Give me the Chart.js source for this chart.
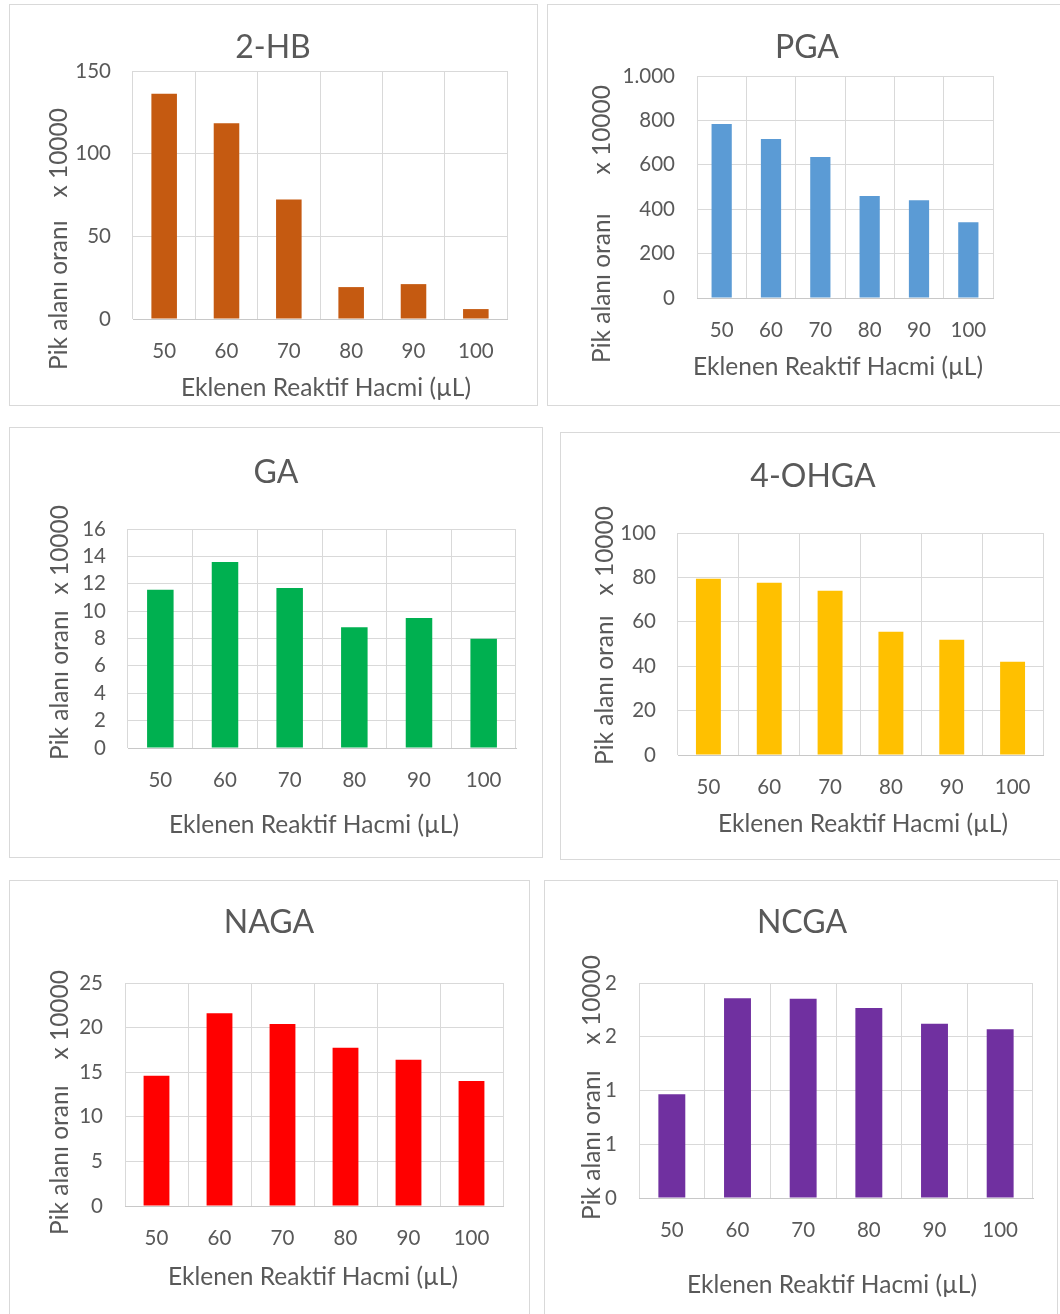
<!DOCTYPE html>
<html>
<head>
<meta charset="utf-8">
<script src="https://cdn.jsdelivr.net/npm/chart.js@4.4.1/dist/chart.umd.min.js"></script>
<style>
  html, body { margin: 0; padding: 0; background: #ffffff; }
  body { width: 1060px; height: 1314px; overflow: hidden; position: relative; }
  .frame { position: absolute; box-sizing: border-box; border: 1px solid #d9d9d9; }
  canvas { position: absolute; }
</style>
</head>
<body>
<script>
// Added reagent volume (µL) on the category axis
const categories = ['50', '60', '70', '80', '90', '100'];

// Peak area ratio (x 10000) per compound
const hbValues   = [136.3, 118.4, 72.3, 19.3, 21.1, 6.0];
const pgaValues  = [784, 716, 635, 459, 440, 341];
const gaValues   = [11.57, 13.59, 11.69, 8.82, 9.50, 7.99];
const ohgaValues = [79.4, 77.6, 74.0, 55.5, 51.9, 42.0];
const nagaValues = [14.6, 21.6, 20.4, 17.75, 16.4, 14.0];
const ncgaValues = [0.965, 1.858, 1.854, 1.767, 1.621, 1.569];

// Value-axis tick labels, listed from the bottom up
const hbTicks   = ['0', '50', '100', '150'];
const pgaTicks  = ['0', '200', '400', '600', '800', '1.000'];
const gaTicks   = ['0', '2', '4', '6', '8', '10', '12', '14', '16'];
const ohgaTicks = ['0', '20', '40', '60', '80', '100'];
const nagaTicks = ['0', '5', '10', '15', '20', '25'];
const ncgaTicks = ['0', '1', '1', '2', '2'];

const xAxisTitle = 'Eklenen Reaktif Hacmi (µL)';
const yAxisMain = 'Pik alanı oranı';
const yAxisUnit = 'x 10000';

const FONT = "Lato, 'Open Sans', sans-serif";
const TEXT = '#595959';
const GRID = '#d9d9d9';

// Panel frames and plot rectangles in page pixels
const panels = [
  { title: '2-HB', values: hbValues, ticks: hbTicks, max: 150, step: 50, color: '#C55A11',
    box: { l: 9, t: 4, r: 538, b: 406 }, plot: { l: 133, t: 71, r: 507, b: 319 },
    titleX: 273, titleY: 48, xTitleX: 326, xTitleY: 388, yTitleX: 59, yMainStart: 370, yUnitEnd: 108 },
  { title: 'PGA', values: pgaValues, ticks: pgaTicks, max: 1000, step: 200, color: '#5B9BD5',
    box: { l: 547, t: 4, r: 1072, b: 406 }, plot: { l: 697, t: 76, r: 993, b: 298 },
    titleX: 807, titleY: 48, xTitleX: 838, xTitleY: 367, yTitleX: 602, yMainStart: 363, yUnitEnd: 85 },
  { title: 'GA', values: gaValues, ticks: gaTicks, max: 16, step: 2, color: '#00B050',
    box: { l: 9, t: 427, r: 543, b: 858 }, plot: { l: 128, t: 529, r: 516, b: 748 },
    titleX: 276, titleY: 473, xTitleX: 314, xTitleY: 825, yTitleX: 60, yMainStart: 760, yUnitEnd: 505 },
  { title: '4-OHGA', values: ohgaValues, ticks: ohgaTicks, max: 100, step: 20, color: '#FFC000',
    box: { l: 560, t: 432, r: 1072, b: 860 }, plot: { l: 678, t: 533, r: 1043, b: 755 },
    titleX: 813, titleY: 477, xTitleX: 863, xTitleY: 824, yTitleX: 605, yMainStart: 765, yUnitEnd: 506 },
  { title: 'NAGA', values: nagaValues, ticks: nagaTicks, max: 25, step: 5, color: '#FF0000',
    box: { l: 9, t: 880, r: 530, b: 1330 }, plot: { l: 125, t: 983, r: 503, b: 1206 },
    titleX: 269, titleY: 923, xTitleX: 313, xTitleY: 1277, yTitleX: 60, yMainStart: 1235, yUnitEnd: 970 },
  { title: 'NCGA', values: ncgaValues, ticks: ncgaTicks, max: 2, step: 0.5, color: '#7030A0',
    box: { l: 544, t: 880, r: 1058, b: 1330 }, plot: { l: 639, t: 983, r: 1033, b: 1198 },
    titleX: 802, titleY: 923, xTitleX: 832, xTitleY: 1285, yTitleX: 592, yMainStart: 1220, yUnitEnd: 955 }
];

// Draws the chart title, the category-axis title and the two-part rotated value-axis title
const panelText = {
  id: 'panelText',
  afterDraw(chart, args, o) {
    const ctx = chart.ctx;
    ctx.save();
    ctx.fillStyle = TEXT;
    ctx.textBaseline = 'middle';
    ctx.textAlign = 'center';
    ctx.font = `32px ${FONT}`;
    ctx.fillText(o.title, o.titleX, o.titleY);
    ctx.font = `24.5px ${FONT}`;
    ctx.fillText(xAxisTitle, o.xTitleX, o.xTitleY);
    ctx.translate(o.yTitleX, 0);
    ctx.rotate(-Math.PI / 2);
    ctx.textAlign = 'left';
    ctx.fillText(yAxisMain, -o.yMainStart, 0);
    ctx.textAlign = 'right';
    ctx.fillText(yAxisUnit, -o.yUnitEnd, 0);
    ctx.restore();
  }
};

panels.forEach(p => {
  const W = p.box.r - p.box.l;
  const H = p.box.b - p.box.t;

  const frame = document.createElement('div');
  frame.className = 'frame';
  Object.assign(frame.style, { left: p.box.l + 'px', top: p.box.t + 'px', width: W + 'px', height: H + 'px' });
  document.body.appendChild(frame);

  const canvas = document.createElement('canvas');
  canvas.width = W;
  canvas.height = H;
  Object.assign(canvas.style, { left: p.box.l + 'px', top: p.box.t + 'px', width: W + 'px', height: H + 'px' });
  document.body.appendChild(canvas);

  const plotL = p.plot.l - p.box.l;
  const plotT = p.plot.t - p.box.t;
  const plotR = p.plot.r - p.box.l;
  const plotB = p.plot.b - p.box.t;

  new Chart(canvas, {
    type: 'bar',
    data: {
      labels: categories,
      datasets: [{
        data: p.values,
        backgroundColor: p.color,
        borderWidth: 0,
        barPercentage: 0.41,
        categoryPercentage: 1.0
      }]
    },
    options: {
      responsive: false,
      animation: false,
      devicePixelRatio: 1,
      layout: { padding: { left: 0, top: plotT, right: W - plotR, bottom: 0 } },
      plugins: {
        legend: { display: false },
        tooltip: { enabled: false },
        title: { display: false },
        panelText: {
          title: p.title,
          titleX: p.titleX - p.box.l, titleY: p.titleY - p.box.t,
          xTitleX: p.xTitleX - p.box.l, xTitleY: p.xTitleY - p.box.t,
          yTitleX: p.yTitleX - p.box.l,
          yMainStart: p.yMainStart - p.box.t,
          yUnitEnd: p.yUnitEnd - p.box.t
        }
      },
      scales: {
        x: {
          grid: { color: GRID, drawTicks: false, offset: true },
          border: { color: '#c8c8c8' },
          ticks: { color: TEXT, font: { family: FONT, size: 20.5 }, padding: 20, maxRotation: 0, autoSkip: false },
          afterFit: s => { s.height = H - plotB; }
        },
        y: {
          min: 0,
          max: p.max,
          grid: { color: GRID, drawTicks: false },
          border: { display: false },
          ticks: {
            stepSize: p.step,
            autoSkip: false,
            color: TEXT,
            font: { family: FONT, size: 20.5 },
            padding: 22,
            callback: (v, i) => p.ticks[i]
          },
          afterFit: s => { s.width = plotL; }
        }
      }
    },
    plugins: [panelText]
  });
});
</script>
</body>
</html>
